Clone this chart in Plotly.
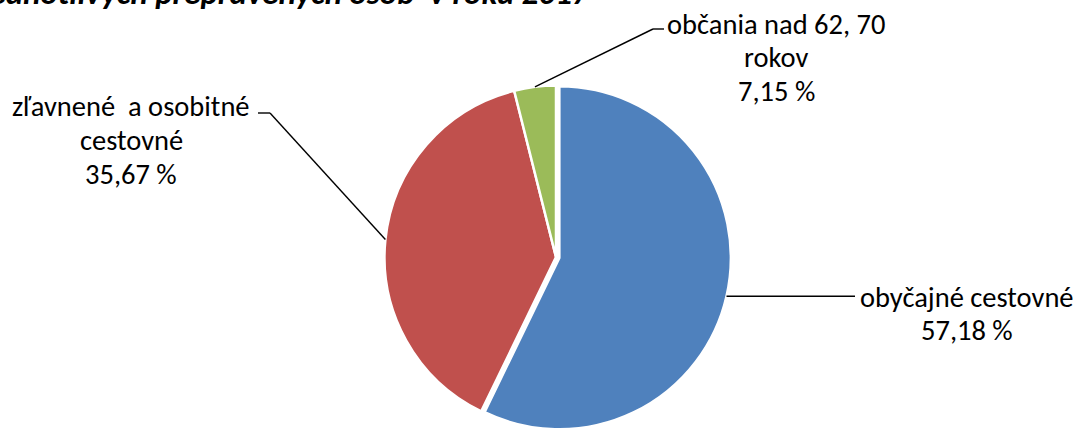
import math
import plotly.graph_objects as go

# ---- data ----
categories = ["obyčajné cestovné", "zľavnené  a osobitné cestovné", "občania nad 62, 70 rokov"]
label_lines = [["obyčajné cestovné"], ["zľavnené  a osobitné", "cestovné"], ["občania nad 62, 70", "rokov"]]
label_pct = ["57,18 %", "35,67 %", "7,15 %"]
slice_shares = [57.18, 38.9, 3.92]   # angular shares as drawn in the pie
title_text = "jednotlivých prepravených osôb  v roku 2017"

# ---- styling / layout ----
colors = ["#4F81BD", "#C0504D", "#9BBB59"]
pulls = [0.02, 0.0, 0.0]
W, H = 1084, 432
R = 171.5
half = R * (1 + max(pulls))
CX = 556.0
CY = H - half            # pie box sits on the bottom edge
FONT = "Carlito, Lato, sans-serif"
FS = 28.5
LINE_H = 33.5

def clamp(v):
    return min(1.0, max(0.0, v))

def px2paper(x, y):
    return x / W, 1 - y / H

fig = go.Figure(go.Pie(
    labels=categories,
    values=slice_shares,
    sort=False,
    direction="clockwise",
    rotation=0,
    pull=pulls,
    textinfo="none",
    hoverinfo="skip",
    marker=dict(colors=colors, line=dict(color="white", width=2.5)),
    domain=dict(x=[clamp((CX - half) / W), clamp((CX + half) / W)],
                y=[0.0, clamp(2 * half / H)]),
))

# label placement (pixel positions of text line centres and leader elbows)
label_pos = [
    dict(cx=967, y0=297, elbow=None, end=(855, None)),
    dict(cx=131, y0=107, elbow=(270, 113), end=(258, 113)),
    dict(cx=776, y0=24, elbow=(653, 29), end=(664, 29)),
]

total = sum(slice_shares)
cum = 0.0
shapes = []
annotations = []
for i, v in enumerate(slice_shares):
    theta = math.radians(360.0 * (cum + v / 2) / total)
    cum += v
    rr = R * (1 + pulls[i])
    ax = CX + rr * math.sin(theta)
    ay = CY - rr * math.cos(theta)
    lp = label_pos[i]
    pts = [(ax, ay)]
    if lp["elbow"] is not None:
        pts.append(lp["elbow"])
        pts.append(lp["end"])
    else:
        pts.append((lp["end"][0], ay))
    for (x0, y0), (x1, y1) in zip(pts[:-1], pts[1:]):
        p0 = px2paper(x0, y0)
        p1 = px2paper(x1, y1)
        shapes.append(dict(type="line", xref="paper", yref="paper",
                           x0=p0[0], y0=p0[1], x1=p1[0], y1=p1[1],
                           line=dict(color="black", width=1.4)))
    lines = label_lines[i] + [label_pct[i]]
    for k, t in enumerate(lines):
        px, py = px2paper(lp["cx"], lp["y0"] + k * LINE_H)
        annotations.append(dict(text=t, xref="paper", yref="paper", x=px, y=py,
                                xanchor="center", yanchor="middle", showarrow=False,
                                font=dict(family=FONT, size=FS, color="black")))

# title, clipped by the top edge as in the reference
tx, ty = px2paper(592, 15)
annotations.append(dict(text="<b><i>" + title_text + "</i></b>", xref="paper", yref="paper",
                        x=tx, y=ty, xanchor="right", yanchor="bottom", showarrow=False,
                        font=dict(family=FONT, size=33, color="black")))

fig.update_layout(
    width=W, height=H,
    margin=dict(l=0, r=0, t=0, b=0),
    paper_bgcolor="white",
    plot_bgcolor="white",
    showlegend=False,
    shapes=shapes,
    annotations=annotations,
)

fig.write_html("out.html", config={"displayModeBar": False},
               post_script="document.body.style.margin='0px';")
